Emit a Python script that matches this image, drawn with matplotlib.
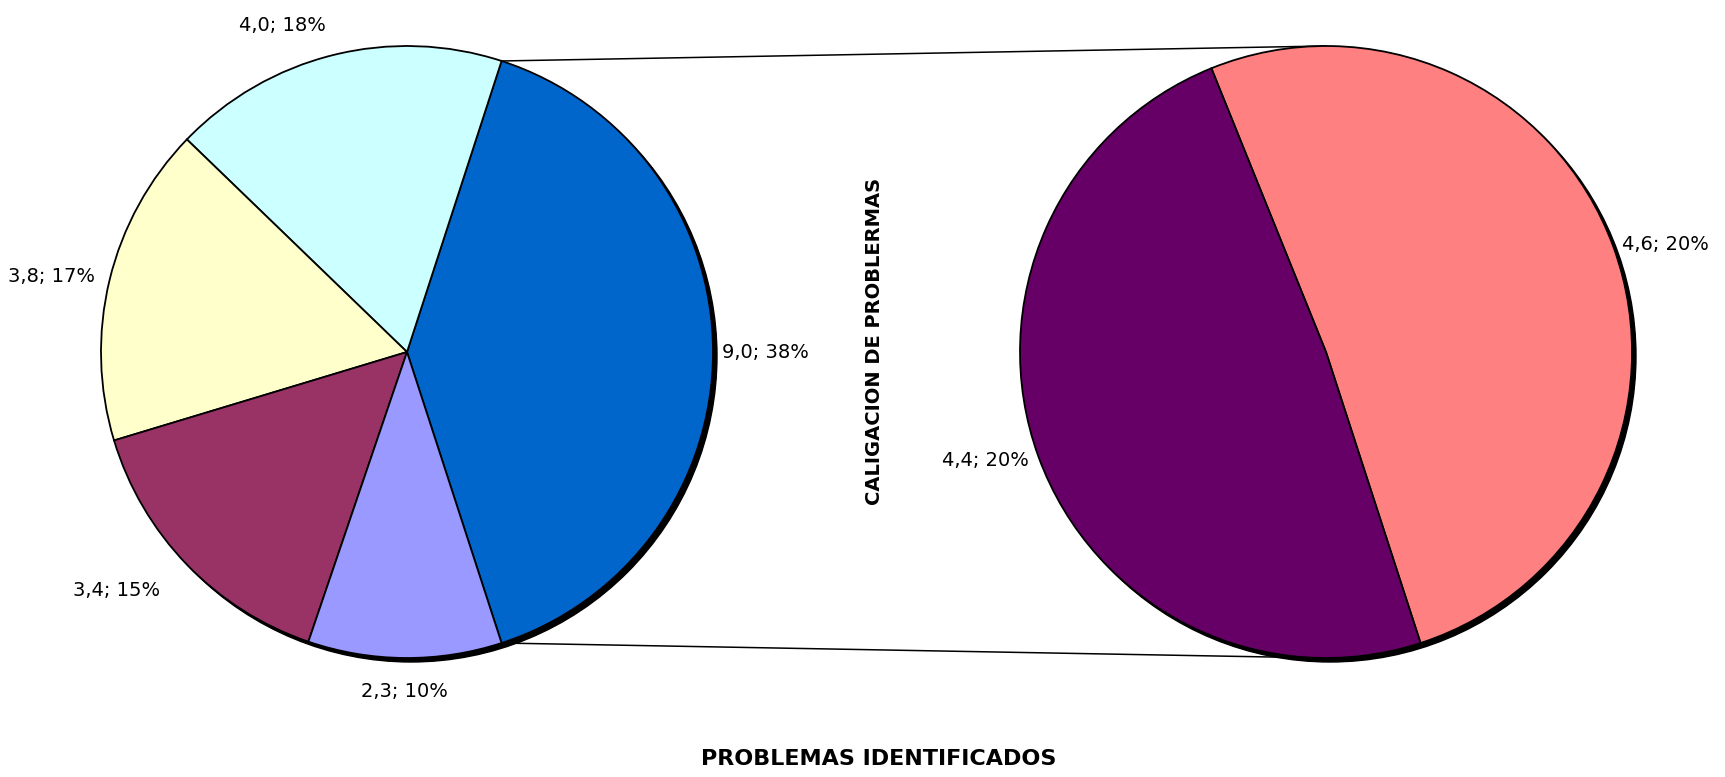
import numpy as np
import matplotlib.pyplot as plt
from matplotlib.patches import Circle

# ---- data ----
main_vals = [9.0, 4.0, 3.8, 3.4, 2.3]          # 9,0 = slice split in second pie
main_pct = ["38%", "18%", "17%", "15%", "10%"]
main_cols = ["#0066CC", "#CCFFFF", "#FFFFCC", "#993366", "#9999FF"]

sub_vals = [4.6, 4.4]
sub_pct = ["20%", "20%"]
sub_cols = ["#FF8080", "#660066"]

titulo = "PROBLEMAS IDENTIFICADOS"
eje = "CALIGACION DE PROBLERMAS"

# ---- layout (pixels) ----
W, H = 1725, 777
c1 = (407, H - 352)
c2 = (1326, H - 352)
R = 306
d1 = [1.03, 1.10, 1.05, 1.12, 1.11]
d2 = [1.03, 1.035]

fnt = "DejaVu Sans"

fig = plt.figure(figsize=(W / 100, H / 100), dpi=100)
ax = fig.add_axes([0, 0, 1, 1])

def fmt(v):
    return ("%.1f" % v).replace(".", ",")

def pastel(center, vals, cols, start, pct, dist):
    ax.add_patch(Circle((center[0] + 4, center[1] - 4), R, color="black", zorder=1))
    ax.pie(vals, colors=cols, startangle=start, counterclock=True,
           center=center, radius=R, frame=True,
           wedgeprops=dict(edgecolor="black", linewidth=1.3, zorder=2))
    tot = sum(vals)
    a0 = start
    for v, p, d in zip(vals, pct, dist):
        mid = np.radians(a0 + v / tot * 180)
        a0 += v / tot * 360
        x = center[0] + R * d * np.cos(mid)
        y = center[1] + R * d * np.sin(mid)
        c = np.cos(mid)
        ha = "center" if abs(c) < 0.1 else ("left" if c > 0 else "right")
        ax.text(x, y, fmt(v) + "; " + p, ha=ha, va="center", fontsize=14,
                family=fnt, zorder=5)

half = main_vals[0] / sum(main_vals) * 180
pastel(c1, main_vals, main_cols, -half, main_pct, d1)
pastel(c2, sub_vals, sub_cols, -half, sub_pct, d2)

# lineas de union
for s in (1, -1):
    xa = c1[0] + R * np.cos(np.radians(half))
    ya = c1[1] + s * R * np.sin(np.radians(half))
    ax.plot([xa, c2[0]], [ya, c2[1] + s * R], color="black", lw=1.1, zorder=0)

ax.text(879, H - 759, titulo, ha="center", va="center", fontsize=16,
        weight="bold", family=fnt)
ax.text(875, H - 341, eje, ha="center", va="center", rotation=90,
        fontsize=14, weight="bold", family=fnt)

ax.set_xlim(0, W)
ax.set_ylim(0, H)
ax.set_aspect("auto")
ax.axis("off")

fig.savefig("out.png", dpi=100)
